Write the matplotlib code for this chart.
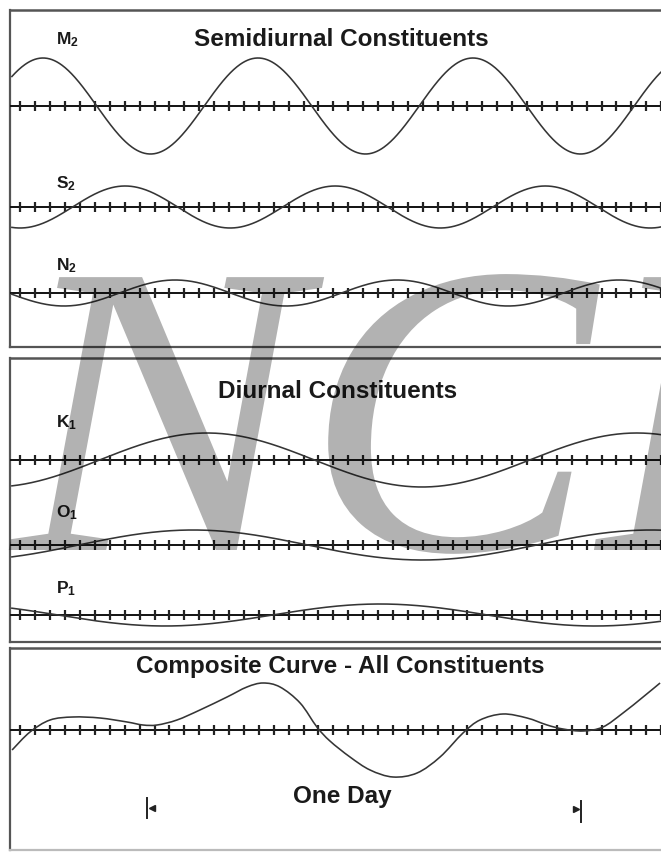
import matplotlib.pyplot as plt
import numpy as np
from matplotlib.patches import PathPatch
from matplotlib.path import Path
from matplotlib.textpath import TextPath
from matplotlib.font_manager import FontProperties
from matplotlib.transforms import Affine2D

plt.rcParams['font.family'] = ['Liberation Sans', 'DejaVu Sans']
plt.rcParams['mathtext.fontset'] = 'custom'
plt.rcParams['mathtext.rm'] = 'Liberation Sans'
plt.rcParams['mathtext.bf'] = 'Liberation Sans:bold'

# tidal constituents: amplitude, period (h) and time of first high water (h)
names = ['M_2', 'S_2', 'N_2', 'K_1', 'O_1', 'P_1']
amplitude = [48, 21, 13, 27, 15, 11]
period_h = [11.89, 11.62, 12.28, 23.78, 25.33, 23.78]
peak_h = [13.66, 6.31, 9.07, 10.84, 10.07, 20.41]

# composite tide read over the same 36 h window
comp_t = [0.06, 1.05, 2.16, 3.43, 4.92, 6.42, 7.30, 8.08, 9.18, 10.45, 11.95,
          13.05, 13.94, 14.88, 15.99, 16.92, 17.64, 18.75, 19.86, 21.13, 22.46,
          23.73, 25.00, 25.94, 27.21, 28.54, 29.65, 30.53, 31.64, 32.74, 33.85,
          34.96, 35.90]
comp_level = [-20, -2, 10, 13, 12, 8, 5, 5, 10, 20, 33, 43, 47, 43, 27, 3, -11,
              -27, -40, -47, -43, -27, -3, 10, 16, 12, 5, 1, -1, 3, 17, 33, 47]

day_start = 7.52   # start of the one-day bracket (h)
day_len = 24

panel_titles = ['Semidiurnal Constituents', 'Diurnal Constituents',
                'Composite Curve - All Constituents']

# layout (figure pixels, y down)
PXH = 18.08          # pixels per hour
X0 = 11              # pixel x of t = 0
H = 852
baselines = [106, 207, 293, 460, 545, 615]
label_y = [44, 188, 270, 427, 517, 593]
comp_base = 730
panels = [(10, 347), (358, 642), (648, 850)]
title_pos = [(341, 46), (338, 398), (340, 673)]


def hx(px):
    return (px - X0) / PXH


def smooth_path(xs, ys):
    # Catmull-Rom through the points, as cubic Bezier segments
    P = np.column_stack([xs, ys]).astype(float)
    n = len(P)
    verts = [P[0]]
    codes = [Path.MOVETO]
    for i in range(n - 1):
        p0 = P[i - 1] if i > 0 else P[i]
        p1, p2 = P[i], P[i + 1]
        p3 = P[i + 2] if i + 2 < n else P[i + 1]
        verts += [p1 + (p2 - p0) / 6, p2 - (p3 - p1) / 6, p2]
        codes += [Path.CURVE4] * 3
    return Path(verts, codes)


fig = plt.figure(figsize=(6.61, 8.52), dpi=100)
ax = fig.add_axes([0, 0, 1, 1])
ax.set_xlim(hx(0), hx(661))
ax.set_ylim(H, 0)
ax.axis('off')

line_col = '#353535'
tick_t = np.arange(0.525, 36.2, 0.824)


def axis_line(y):
    ax.plot([0, 37], [y, y], color='#111111', lw=1.4, zorder=2)
    ax.plot(tick_t, np.full(len(tick_t), y), ls='none', marker='|',
            ms=7, mew=1.6, color='#222222', zorder=2)


# panel frames
for i, (top, bot) in enumerate(panels):
    ax.plot([hx(10.5), 40], [top, top], color='#555555', lw=1.8, zorder=1)
    ax.plot([hx(10.5), hx(10.5)], [top, bot], color='#555555', lw=1.6, zorder=1)
    bcol = '#bbbbbb' if i == 2 else '#555555'
    ax.plot([hx(10.5), 40], [bot, bot], color=bcol, lw=1.6, zorder=1)

t = np.linspace(0.05, 36.2, 800)
for name, a, p, tp, y0, ly in zip(names, amplitude, period_h, peak_h,
                                  baselines, label_y):
    axis_line(y0)
    ax.plot(t, y0 - a * np.cos(2 * np.pi * (t - tp) / p), color=line_col,
            lw=1.15, zorder=3)
    ax.text(hx(56), ly, r'$\mathbf{%s}$' % name, fontsize=12.5,
            color='#1a1a1a', va='baseline', ha='left')

axis_line(comp_base)
ax.add_patch(PathPatch(smooth_path(comp_t, comp_base - np.array(comp_level)),
                       fill=False, ec=line_col, lw=1.15, zorder=3))

for title, (tx, ty) in zip(panel_titles, title_pos):
    ax.text(hx(tx), ty, title, fontsize=17.5, fontweight='bold',
            color='#1a1a1a', ha='center', va='baseline')

# one-day bracket
ax.text(hx(342), 803, 'One Day', fontsize=17.5, fontweight='bold',
        color='#1a1a1a', ha='center', va='baseline')
d0, d1 = day_start, day_start + day_len
ax.plot([d0, d0], [798, 818], color='#222222', lw=1.4)
ax.plot(d0 + 0.28, 808, marker='<', ms=5, color='#222222')
ax.plot([d1, d1], [801, 822], color='#222222', lw=1.4)
ax.plot(d1 - 0.28, 809, marker='>', ms=5, color='#222222')

# watermark, slightly widened serif italic
wm = TextPath((0, 0), 'NCI', size=416.7,
              prop=FontProperties(family='Liberation Serif', style='italic'))
ax.add_patch(PathPatch(wm, fc='black', ec='none', alpha=0.3, zorder=10,
                       transform=Affine2D().scale(1.05, 1.0)
                       .translate(12, H - 550)))

fig.savefig('out.png', dpi=100)
